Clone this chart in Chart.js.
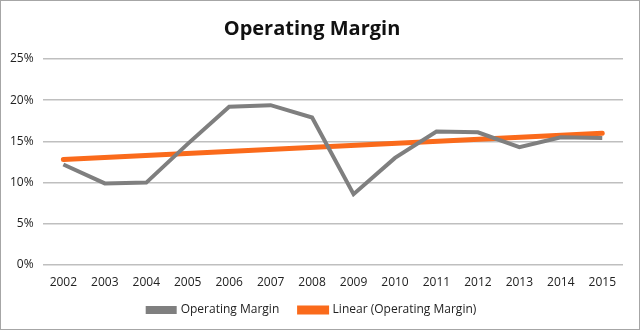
<!DOCTYPE html>
<html lang="en">
<head>
  <meta charset="UTF-8">
  <title>Operating Margin</title>
  <style>
    html, body {
      margin: 0;
      padding: 0;
      background: #fff;
    }
    .frame {
      width: 640px;
      height: 330px;
      box-sizing: border-box;
      border: 1px solid #a6a6a6;
      position: relative;
    }
  </style>
  <script src="https://cdn.jsdelivr.net/npm/chart.js"></script>
</head>
<body>
  <div class="frame">
    <canvas id="marginChart" width="638" height="328"></canvas>
  </div>

  <script>
    const years = ['2002', '2003', '2004', '2005', '2006', '2007', '2008',
                   '2009', '2010', '2011', '2012', '2013', '2014', '2015'];
    // operating margin, percent
    const margin = [12.2, 9.9, 10.0, 14.7, 19.2, 19.4, 17.9,
                    8.6, 13.0, 16.2, 16.1, 14.3, 15.5, 15.4];
    // linear trend end points (first and last year)
    const trendYears = ['2002', '2015'];
    const trendValues = [12.8, 16.0];
    const yTicks = [0, 5, 10, 15, 20, 25];

    const font = "'Open Sans', 'Liberation Sans', sans-serif";

    const ctx = document.getElementById('marginChart').getContext('2d');
    new Chart(ctx, {
      type: 'line',
      data: {
        labels: years,
        datasets: [
          {
            // trailing spaces widen the gap to the next legend entry
            label: 'Operating Margin   ',
            data: margin,
            borderColor: '#7f7f7f',
            backgroundColor: '#7f7f7f',
            borderWidth: 4,
            pointRadius: 0,
            tension: 0
          },
          {
            label: 'Linear (Operating Margin)',
            data: trendYears.map((y, i) => ({ x: y, y: trendValues[i] })),
            borderColor: '#fa6a1b',
            backgroundColor: '#fa6a1b',
            borderWidth: 5,
            borderCapStyle: 'round',
            pointRadius: 0,
            tension: 0
          }
        ]
      },
      options: {
        responsive: false,
        animation: false,
        layout: {
          padding: { left: 0, right: 16, top: 6, bottom: 3 }
        },
        plugins: {
          title: {
            display: true,
            text: 'Operating Margin',
            color: '#111',
            font: { family: font, size: 20, weight: 'bold' },
            padding: { top: 10, bottom: 18 }
          },
          legend: {
            position: 'bottom',
            labels: {
              color: '#222',
              font: { family: font, size: 12 },
              boxWidth: 27,
              boxHeight: 4,
              padding: 11
            }
          },
          tooltip: { enabled: false }
        },
        scales: {
          x: {
            offset: true,
            grid: { display: false, drawTicks: false },
            border: { display: false },
            ticks: {
              color: '#222',
              font: { family: font, size: 12 },
              padding: 10,
              maxRotation: 0
            },
            // keep the year row tight above the legend
            afterFit: axis => { axis.height = 28; }
          },
          y: {
            min: 0,
            max: 25,
            afterBuildTicks: axis => {
              axis.ticks = yTicks.map(v => ({ value: v }));
            },
            grid: {
              color: '#bfbfbf',
              lineWidth: 1.5,
              drawTicks: false
            },
            border: { display: false },
            ticks: {
              color: '#222',
              font: { family: font, size: 12 },
              padding: 9,
              callback: v => v + '%'
            }
          }
        }
      }
    });
  </script>
</body>
</html>
